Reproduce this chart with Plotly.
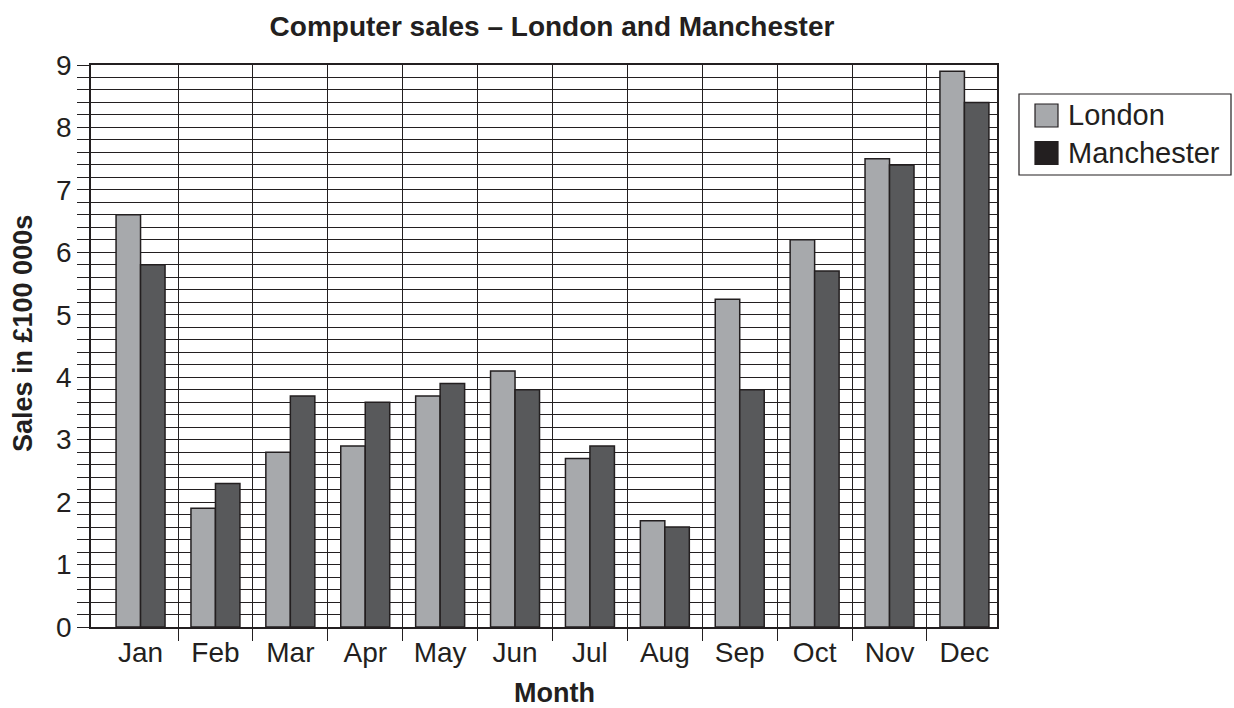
import plotly.graph_objects as go

# Monthly computer sales, in units of £100 000
months = ["Jan", "Feb", "Mar", "Apr", "May", "Jun",
          "Jul", "Aug", "Sep", "Oct", "Nov", "Dec"]
london = [6.6, 1.9, 2.8, 2.9, 3.7, 4.1, 2.7, 1.7, 5.25, 6.2, 7.5, 8.9]
manchester = [5.8, 2.3, 3.7, 3.6, 3.9, 3.8, 2.9, 1.6, 3.8, 5.7, 7.4, 8.4]
series_names = ["London", "Manchester"]

LONDON_FILL = "#a7a9ac"
MANCH_FILL = "#58595b"
INK = "#231f20"
FONT = "Liberation Sans, Arial, sans-serif"

W, H = 1234, 708
# plot-area box in pixels
X0, X1, Y0, Y1 = 91, 997, 65, 627

positions = list(range(len(months)))
dividers = [p + 0.5 for p in positions[:-1]]

fig = go.Figure()
for name, vals, fill in ((series_names[0], london, LONDON_FILL),
                         (series_names[1], manchester, MANCH_FILL)):
    fig.add_trace(go.Bar(
        x=positions, y=vals, name=name, showlegend=False,
        marker=dict(color=fill, line=dict(color=INK, width=1.5)),
    ))


def px_x(px):
    return (px - X0) / (X1 - X0)


def px_y(py):
    return (Y1 - py) / (Y1 - Y0)


# legend box drawn in paper space
shapes = [dict(type="rect", xref="paper", yref="paper",
               x0=px_x(1019), x1=px_x(1231), y0=px_y(175), y1=px_y(94),
               line=dict(color=INK, width=1.2), fillcolor="white", layer="above")]
annotations = []
for i, (name, fill) in enumerate(zip(series_names, [LONDON_FILL, INK])):
    top = 104 + i * 37.5
    shapes.append(dict(type="rect", xref="paper", yref="paper",
                       x0=px_x(1035), x1=px_x(1058), y0=px_y(top + 23), y1=px_y(top),
                       line=dict(color=INK, width=1.2), fillcolor=fill, layer="above"))
    annotations.append(dict(xref="paper", yref="paper", x=px_x(1066), y=px_y(top + 11.5),
                            text=name, showarrow=False, xanchor="left", yanchor="middle",
                            font=dict(family=FONT, size=29, color=INK)))

# axis titles
annotations.append(dict(xref="paper", yref="paper", x=px_x(554), y=px_y(693),
                        text="<b>Month</b>", showarrow=False,
                        xanchor="center", yanchor="middle",
                        font=dict(family=FONT, size=27, color=INK)))
annotations.append(dict(xref="paper", yref="paper", x=px_x(23), y=px_y(334),
                        text="<b>Sales in £100 000s</b>", showarrow=False, textangle=-90,
                        xanchor="center", yanchor="middle",
                        font=dict(family=FONT, size=27, color=INK)))

fig.update_layout(
    width=W, height=H,
    margin=dict(l=X0, r=W - X1, t=Y0, b=H - Y1),
    paper_bgcolor="white", plot_bgcolor="white",
    barmode="group", bargap=0.346, bargroupgap=0,
    font=dict(family=FONT, color=INK),
    title=dict(text="<b>Computer sales – London and Manchester</b>",
               x=552 / W, xanchor="center", xref="container",
               y=1 - 26 / H, yanchor="middle", yref="container",
               font=dict(family=FONT, size=28, color=INK)),
    shapes=shapes, annotations=annotations,
)

fig.update_xaxes(
    range=[-0.6616, 11.435], automargin=False,
    tickmode="array", tickvals=positions, ticktext=months,
    ticks="", showgrid=False,
    tickfont=dict(family=FONT, size=28, color=INK),
    showline=True, linecolor=INK, linewidth=1.5, mirror=True,
    minor=dict(tickmode="array", tickvals=dividers, ticks="outside", ticklen=12,
               tickcolor=INK, tickwidth=1, showgrid=True, gridcolor=INK, gridwidth=1),
    zeroline=False,
)
fig.update_yaxes(
    range=[0, 9], dtick=1, tick0=0, automargin=False,
    ticks="outside", ticklen=12, tickcolor=INK, tickwidth=1,
    tickfont=dict(family=FONT, size=28, color=INK),
    showgrid=True, gridcolor=INK, gridwidth=1,
    minor=dict(dtick=0.2, ticks="outside", ticklen=12, tickcolor=INK, tickwidth=1,
               showgrid=True, gridcolor=INK, gridwidth=1),
    showline=True, linecolor=INK, linewidth=1.5, mirror=True,
    zeroline=False,
)

fig.write_html("out.html")
